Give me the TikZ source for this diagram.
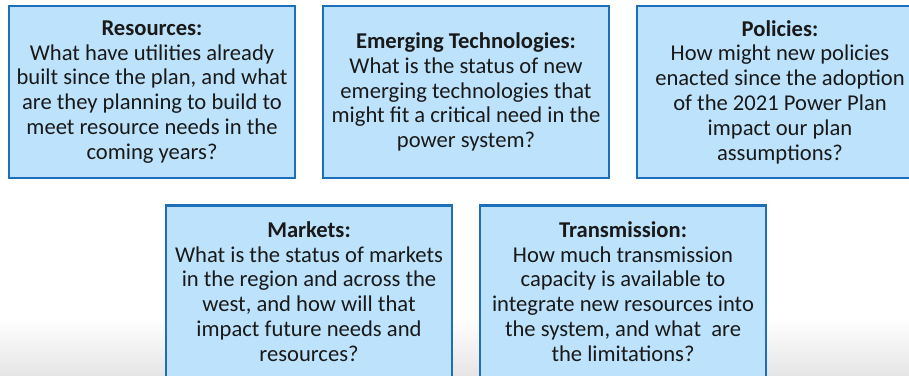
\documentclass[tikz,border=0pt]{standalone}
\usepackage{fontspec}
\setmainfont{Carlito}
\definecolor{boxfill}{HTML}{BDE3FC}
\definecolor{boxline}{HTML}{1E6FBA}
\begin{document}
\begin{tikzpicture}[x=1pt,y=-1pt,
  qbox/.style={draw=boxline, fill=boxfill, line width=2.5pt, minimum width=286pt, minimum height=172pt, inner sep=0pt, align=center, text=black!90, font=\fontsize{22.6}{24.8}\selectfont}]
\useasboundingbox (0,0) rectangle (909,375);
\clip (0,0) rectangle (909,375);
\fill[white] (0,0) rectangle (909,375);
\shade[top color=white, bottom color=black!10] (0,318) rectangle (909,375);
\node[qbox] (res) at (152,92) {\textbf{Resources:}\\What have utilities already\\built since the plan, and what\\are they planning to build to\\meet resource needs in the\\coming years?};
\node[qbox] (emt) at (466,92) {\textbf{Emerging Technologies:}\\What is the status of new\\emerging technologies that\\might fit a critical need in the\\power system?};
\node[qbox] (pol) at (780,92) {\textbf{Policies:}\\How might new policies\\enacted since the adoption\\of the 2021 Power Plan\\impact our plan\\assumptions?};
\node[qbox] (mkt) at (309,291.5) {\textbf{Markets:}\\What is the status of markets\\in the region and across the\\west, and how will that\\impact future needs and\\resources?};
\node[qbox] (trn) at (623,291.5) {\textbf{Transmission:}\\How much transmission\\capacity is available to\\integrate new resources into\\the system, and what\ \ are\\the limitations?};
\end{tikzpicture}
\end{document}
